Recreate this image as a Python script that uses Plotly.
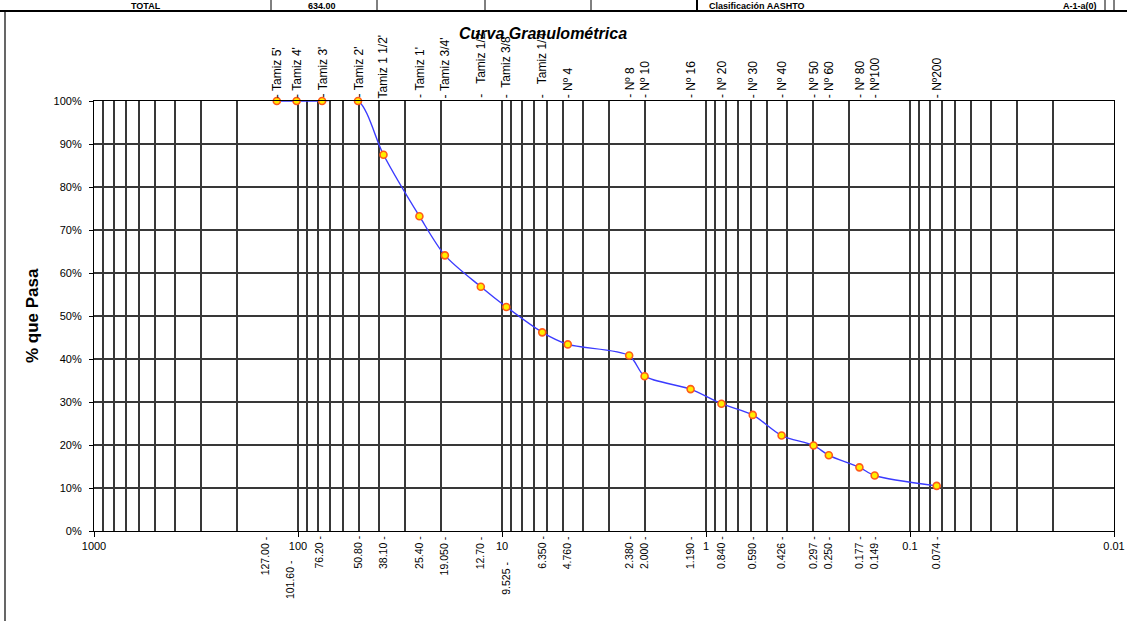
import math
import plotly.graph_objects as go

# Sieve series: name, nominal opening (mm), printed opening, percent passing
sieve_names = ["Tamiz 5'", "Tamiz 4'", "Tamiz 3'", "Tamiz 2'", "Tamiz 1 1/2'", "Tamiz 1'",
               "Tamiz 3/4'", "Tamiz 1/2'", "Tamiz 3/8'", "Tamiz 1/4'", "Nº 4", "Nº 8",
               "Nº 10", "Nº 16", "Nº 20", "Nº 30", "Nº 40", "Nº 50", "Nº 60", "Nº 80",
               "Nº100", "Nº200"]
opening_mm = [127.00, 101.60, 76.20, 50.80, 38.10, 25.40, 19.05, 12.70, 9.525, 6.35, 4.76,
              2.38, 2.00, 1.19, 0.84, 0.59, 0.426, 0.297, 0.25, 0.177, 0.149, 0.074]
opening_text = ["127.00", "101.60", "76.20", "50.80", "38.10", "25.40", "19.050", "12.70",
                "9.525", "6.350", "4.760", "2.380", "2.000", "1.190", "0.840", "0.590",
                "0.426", "0.297", "0.250", "0.177", "0.149", "0.074"]
pct_passing = [100, 100, 100, 100, 87.5, 73.2, 64.1, 56.8, 52.1, 46.2, 43.4, 40.8, 36.0,
               33.0, 29.6, 27.0, 22.2, 19.9, 17.6, 14.8, 12.9, 10.5]

# Axis labels
x_tick_vals = [1000, 100, 10, 1, 0.1, 0.01]
x_tick_text = ["1000", "100", "10", "1", "0.1", "0.01"]
y_tick_vals = [0, 10, 20, 30, 40, 50, 60, 70, 80, 90, 100]
y_tick_text = [f"{v}%" for v in y_tick_vals]

# Header row above the chart (a table row from the sheet)
header_text = ["TOTAL", "634.00", "Clasificación AASHTO", "A-1-a(0)"]

FONT = "Liberation Sans, Arial, sans-serif"
W, H = 1127, 621
L, R, T, B = 94, 13, 101, 90
PW, PH = W - L - R, H - T - B


def px_x(px):
    return (px - L) / PW


def px_y(py):
    return (H - B - py) / PH


grid_col = "#383838"

# minor gridlines at 2..9 of every decade
minor_vals = []
for dec in [0.01, 0.1, 1, 10, 100]:
    for k in range(2, 10):
        minor_vals.append(round(dec * k, 6))

fig = go.Figure()
fig.add_trace(go.Scatter(
    x=opening_mm, y=pct_passing, mode="lines+markers",
    line=dict(color="#3b3bff", width=1.4, shape="spline", smoothing=0.8),
    marker=dict(size=7, color="#ffee00", line=dict(color="#ff5a1a", width=1.6)),
    showlegend=False, cliponaxis=False,
))

annotations = []

# chart title
annotations.append(dict(
    x=px_x(543), y=px_y(33), xref="paper", yref="paper", showarrow=False,
    text="<b><i>Curva Granulométrica</i></b>",
    font=dict(family=FONT, size=16, color="#000"), xanchor="center", yanchor="middle"))

# y axis title
annotations.append(dict(
    x=px_x(32), y=0.5, xref="paper", yref="paper", showarrow=False,
    text="<b>% que Pasa</b>", textangle=-90,
    font=dict(family=FONT, size=17, color="#000"), xanchor="center", yanchor="middle"))

# sieve names above the plot (annotation x on a log axis is log10 of the value)
gap = {"Tamiz 1/2'": 2, "Tamiz 3/8'": 1, "Tamiz 1/4'": 2}
for name, d in zip(sieve_names, opening_mm):
    pad = "\u00a0" * gap.get(name, 0)
    txt = name if name == "Tamiz 1 1/2'" else "-\u00a0" + pad + name
    annotations.append(dict(
        x=math.log10(d), y=1, xref="x", yref="paper", showarrow=False, text=txt,
        textangle=-90, font=dict(family=FONT, size=12, color="#000"),
        xanchor="center", yanchor="bottom", yshift=1))

# sieve openings below the axis
shift_x = {"127.00": -12, "101.60": -7, "76.20": -4}
shift_y = {"101.60": -24, "9.525": -26}
for lab, d in zip(opening_text, opening_mm):
    annotations.append(dict(
        x=math.log10(d), y=0, xref="x", yref="paper", showarrow=False,
        text=lab + "\u00a0-", textangle=-90,
        font=dict(family=FONT, size=10.5, color="#000"),
        xanchor="center", yanchor="top",
        xshift=shift_x.get(lab, -1), yshift=-3 + shift_y.get(lab, 0)))

# header row text
for txt, cx in zip(header_text, [146, 322, 757, 1080]):
    annotations.append(dict(
        x=px_x(cx), y=px_y(0), xref="paper", yref="paper", showarrow=False,
        text="<b>" + txt + "</b>", font=dict(family=FONT, size=9, color="#000"),
        xanchor="center", yanchor="top", borderpad=0))

shapes = []
# frame of the sheet area
shapes.append(dict(type="line", xref="paper", yref="paper",
                   x0=px_x(0), x1=px_x(W), y0=px_y(11), y1=px_y(11),
                   line=dict(color="#000", width=2)))
shapes.append(dict(type="line", xref="paper", yref="paper",
                   x0=px_x(5), x1=px_x(5), y0=px_y(11), y1=px_y(H),
                   line=dict(color="#000", width=1.2)))
for sx, wd in [(271, 1), (377, 1), (485, 1), (591, 1), (697, 2), (1105, 1), (1114, 1)]:
    shapes.append(dict(type="line", xref="paper", yref="paper",
                       x0=px_x(sx), x1=px_x(sx), y0=px_y(0), y1=px_y(11),
                       line=dict(color="#000", width=wd)))

fig.update_layout(
    width=W, height=H, autosize=False,
    margin=dict(l=L, r=R, t=T, b=B, pad=0),
    paper_bgcolor="white", plot_bgcolor="white",
    font=dict(family=FONT, size=11, color="#000"),
    annotations=annotations, shapes=shapes,
    xaxis=dict(
        type="log", range=[3, -2], automargin=False,
        tickmode="array", tickvals=x_tick_vals, ticktext=x_tick_text,
        ticks="outside", ticklen=5, tickcolor="#000", tickwidth=1,
        tickfont=dict(family=FONT, size=11, color="#000"),
        showgrid=True, gridcolor=grid_col, gridwidth=1.6,
        minor=dict(tickmode="array", tickvals=minor_vals, showgrid=True,
                   gridcolor=grid_col, gridwidth=1.6, ticks=""),
        showline=True, linecolor="#000", linewidth=1.2, mirror=True,
        zeroline=False,
    ),
    yaxis=dict(
        range=[0, 100], automargin=False,
        tickmode="array", tickvals=y_tick_vals, ticktext=y_tick_text,
        ticks="outside", ticklen=4, tickcolor="#000",
        tickfont=dict(family=FONT, size=11, color="#000"),
        ticklabelstandoff=5,
        showgrid=True, gridcolor=grid_col, gridwidth=1.6,
        showline=True, linecolor="#000", linewidth=1.2, mirror=True,
        zeroline=False,
    ),
)

fig.write_html("out.html", config={"responsive": False},
               default_width="1127px", default_height="621px")
